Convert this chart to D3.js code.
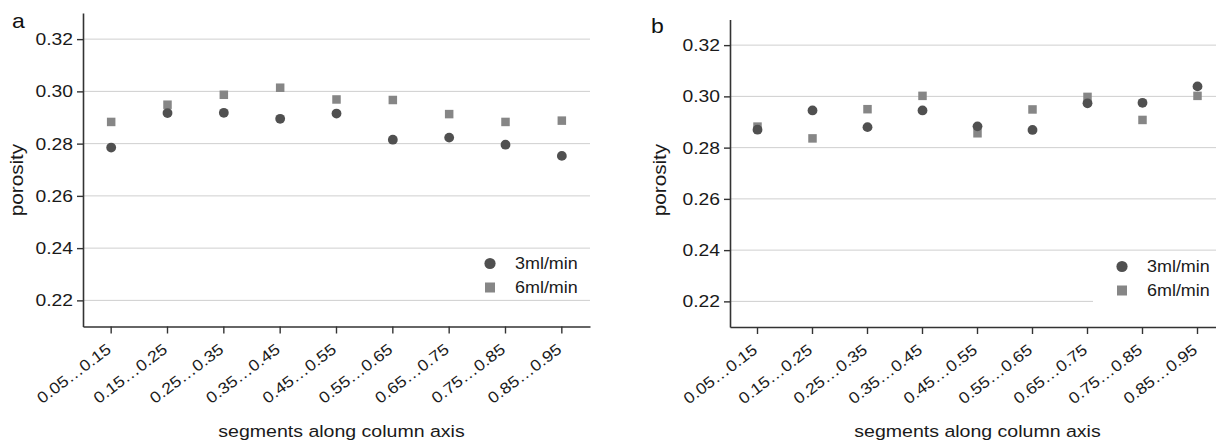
<!DOCTYPE html>
<html>
<head>
<meta charset="utf-8">
<script src="https://cdn.jsdelivr.net/npm/d3@7"></script>
<style>
  body { margin: 0; background: #fff; }
  svg { display: block; font-family: "Liberation Sans", Arial, sans-serif; }
</style>
</head>
<body>
<svg id="chart" width="1216" height="441"></svg>
<script>
// categories along the column axis
var segments = ["0.05…0.15", "0.15…0.25", "0.25…0.35", "0.35…0.45", "0.45…0.55",
                "0.55…0.65", "0.65…0.75", "0.75…0.85", "0.85…0.95"];
var yTicks = [0.22, 0.24, 0.26, 0.28, 0.30, 0.32];
var seriesNames = ["3ml/min", "6ml/min"];

// panel a
var a3ml = [0.2785, 0.2917, 0.2918, 0.2895, 0.2915, 0.2815, 0.2823, 0.2796, 0.2753];
var a6ml = [0.2883, 0.2949, 0.2987, 0.3014, 0.2969, 0.2967, 0.2913, 0.2883, 0.2888];
// panel b
var b3ml = [0.2870, 0.2945, 0.2880, 0.2945, 0.2883, 0.2869, 0.2973, 0.2975, 0.3039];
var b6ml = [0.2882, 0.2836, 0.2950, 0.3002, 0.2856, 0.2949, 0.2998, 0.2908, 0.3002];

var SX = 1.15; // the figure's font is wide, stretch text along its baseline
var circleColor = "#505050", squareColor = "#868686", textColor = "#1a1a1a";

var svg = d3.select("#chart");

function drawPanel(cfg) {
    var x = d3.scaleBand().domain(segments).range(cfg.xRange);
    var y = d3.scaleLinear().domain([0.21, 0.33]).range(cfg.yRange);
    var g = svg.append("g");

    // grid lines
    g.selectAll(".grid")
        .data(yTicks)
        .enter()
        .append("line")
        .attr("x1", cfg.xRange[0])
        .attr("x2", cfg.xRange[1])
        .attr("y1", function (d) { return y(d); })
        .attr("y2", function (d) { return y(d); })
        .attr("stroke", "#cfcfcf")
        .attr("stroke-width", 1);

    if (cfg.legendBox) {
        g.append("rect")
            .attr("x", cfg.legendBox[0]).attr("y", cfg.legendBox[1])
            .attr("width", cfg.legendBox[2]).attr("height", cfg.legendBox[3])
            .attr("fill", "#fff");
    }

    // y axis
    var yAxis = g.append("g")
        .attr("transform", "translate(" + cfg.xRange[0] + ",0)")
        .call(d3.axisLeft(y).tickValues(yTicks).tickFormat(d3.format(".2f")).tickSize(6).tickSizeOuter(0));
    yAxis.selectAll("text")
        .attr("x", null)
        .attr("font-size", 16.8)
        .attr("fill", textColor)
        .attr("transform", "translate(-10,0) scale(" + SX + ",1)");

    // x axis
    var xAxis = g.append("g")
        .attr("transform", "translate(0," + cfg.yRange[0] + ")")
        .call(d3.axisBottom(x).tickSize(7).tickSizeOuter(0));
    xAxis.selectAll("text")
        .attr("x", 0).attr("y", 0).attr("dy", 0)
        .attr("text-anchor", "end")
        .attr("font-size", 15.6)
        .attr("fill", textColor)
        .attr("transform", "translate(1,25) rotate(-37) scale(" + SX + ",1)");

    [yAxis, xAxis].forEach(function (ax) {
        ax.attr("font-family", null);
        ax.select(".domain").attr("stroke", "#333").attr("stroke-width", 1.6);
        ax.selectAll(".tick line").attr("stroke", "#333").attr("stroke-width", 1.4);
    });

    // squares first, circles drawn on top
    var sq = 8.5;
    g.selectAll(".sq")
        .data(cfg.s6)
        .enter()
        .append("rect")
        .attr("x", function (d, i) { return x(segments[i]) + x.bandwidth() / 2 - sq / 2; })
        .attr("y", function (d) { return y(d) - sq / 2; })
        .attr("width", sq)
        .attr("height", sq)
        .attr("fill", squareColor);

    g.selectAll(".dot")
        .data(cfg.s3)
        .enter()
        .append("circle")
        .attr("cx", function (d, i) { return x(segments[i]) + x.bandwidth() / 2; })
        .attr("cy", function (d) { return y(d); })
        .attr("r", 4.9)
        .attr("fill", circleColor);

    // titles
    var xMid = (cfg.xRange[0] + cfg.xRange[1]) / 2 + cfg.titleShift;
    g.append("text")
        .attr("text-anchor", "middle")
        .attr("font-size", 17)
        .attr("fill", textColor)
        .attr("transform", "translate(" + xMid + ",437) scale(" + SX + ",1)")
        .text("segments along column axis");

    g.append("text")
        .attr("text-anchor", "middle")
        .attr("font-size", 18)
        .attr("fill", textColor)
        .attr("transform", "translate(" + (cfg.xRange[0] - cfg.porosityOffset) + ",180) rotate(-90) scale(" + SX + ",1)")
        .text("porosity");

    g.append("text")
        .attr("font-size", 20)
        .attr("fill", "#111")
        .attr("transform", "translate(" + cfg.letterPos[0] + "," + cfg.letterPos[1] + ") scale(" + SX + ",1)")
        .text(cfg.letter);

    // legend
    var lg = g.append("g").attr("transform", "translate(" + cfg.legendPos[0] + "," + cfg.legendPos[1] + ")");
    lg.append("circle").attr("cx", 0).attr("cy", 0).attr("r", 5.6).attr("fill", circleColor);
    lg.append("rect").attr("x", -5).attr("y", 24 - 5).attr("width", 10).attr("height", 10).attr("fill", squareColor);
    lg.selectAll(".lt")
        .data(seriesNames)
        .enter()
        .append("text")
        .attr("font-size", 15.6)
        .attr("fill", textColor)
        .attr("dy", "0.35em")
        .attr("transform", function (d, i) { return "translate(25," + (i * 24) + ") scale(" + SX + ",1)"; })
        .text(function (d) { return d; });
}

drawPanel({
    letter: "a", letterPos: [12, 28],
    xRange: [83, 590], yRange: [326.5, 13],
    s3: a3ml, s6: a6ml,
    legendPos: [490, 263.5], legendBox: null,
    titleShift: 5, porosityOffset: 60
});

drawPanel({
    letter: "b", letterPos: [651, 33],
    xRange: [730, 1225], yRange: [327, 19.5],
    s3: b3ml, s6: b6ml,
    legendPos: [1122, 266.5], legendBox: [1093, 256, 130, 50],
    titleShift: 0, porosityOffset: 64
});
</script>
</body>
</html>
